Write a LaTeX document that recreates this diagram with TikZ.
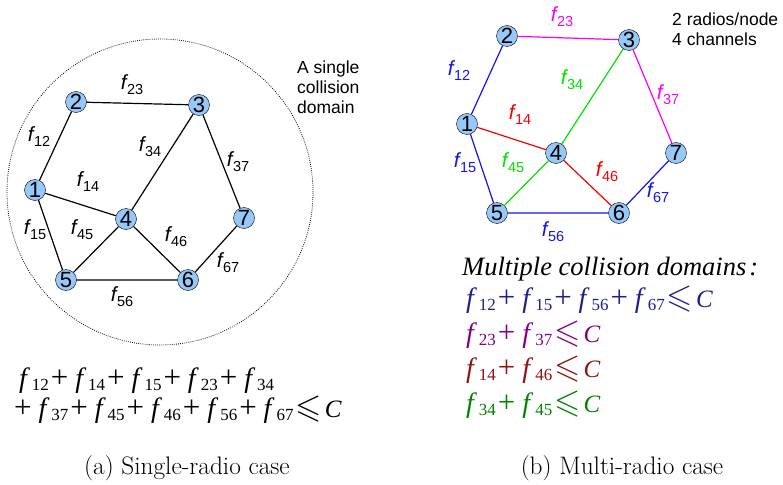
\documentclass[tikz,border=0pt]{standalone}
\usepackage{fontspec}
\usepackage{amssymb}
\newfontfamily\arialf{Liberation Sans}
\newfontfamily\timesf{Liberation Serif}
\definecolor{nodeblue}{RGB}{150,200,250}
\definecolor{chblue}{RGB}{20,20,235}
\definecolor{chmag}{RGB}{250,0,250}
\definecolor{chgreen}{RGB}{0,225,0}
\definecolor{chred}{RGB}{245,0,0}
\definecolor{eqblue}{RGB}{30,30,140}
\definecolor{eqpurple}{RGB}{130,0,130}
\definecolor{eqred}{RGB}{140,20,20}
\definecolor{eqgreen}{RGB}{0,130,0}
% link label f_ij
\newcommand{\lf}[1]{\itshape f\upshape\kern0.5pt\raisebox{-5pt}{\fontsize{14.5}{14.5}\selectfont #1}}
% equation term and plus
\newcommand{\ef}[1]{{\itshape\fontsize{28}{30}\selectfont f}\kern5pt\raisebox{-3pt}[0pt][0pt]{\fontsize{17}{17}\selectfont #1}}
\newcommand{\eplus}{{\fontsize{31}{30}\selectfont+}}
\newcommand{\ep}{\kern2pt\eplus\kern7pt}
\newcommand{\eleq}{\kern2pt\smash{\scalebox{1.35}{$\leqslant$}}\kern3pt\textit{C}}
\begin{document}
\begin{tikzpicture}[x=1pt, y=-1pt,
  nd/.style={draw, circle, fill=nodeblue, minimum size=21pt, inner sep=0pt, font=\arialf\fontsize{22}{22}\selectfont},
  lnk/.style={line width=1.2pt},
  lbl/.style={inner sep=0pt, font=\arialf\fontsize{20.5}{20.5}\selectfont},
  note/.style={inner sep=0pt, align=left, font=\arialf\fontsize{17.5}{20}\selectfont},
  eqn/.style={anchor=base west, inner sep=0pt, font=\timesf\fontsize{25}{30}\selectfont},
  captxt/.style={inner sep=0pt, font=\fontsize{25.3}{28}\selectfont}]
\useasboundingbox (0,0) rectangle (783,484);
% (a) single radio
\coordinate (dom) at (160,192);
\draw[line width=0.8pt, dash pattern=on 0.8pt off 1.3pt] (dom) circle (153pt);
\node[nd] (a1) at (35,190) {1};
\node[nd] (a2) at (76,102) {2};
\node[nd] (a3) at (199,105) {3};
\node[nd] (a4) at (126,219) {4};
\node[nd] (a5) at (66,280) {5};
\node[nd] (a6) at (188,280) {6};
\node[nd] (a7) at (244,218) {7};
\draw[lnk] (a5) -- (a1) -- (a2) -- (a3) -- (a7) -- (a6) -- (a5);
\draw[lnk] (a1) -- (a4) -- (a6);
\draw[lnk] (a5) -- (a4) -- (a3);
\node[lbl] (la12) at (39,137) {\lf{12}};
\node[lbl] (la23) at (132,85) {\lf{23}};
\node[lbl] (la34) at (150,147) {\lf{34}};
\node[lbl] (la37) at (238,162) {\lf{37}};
\node[lbl] (la14) at (88,182) {\lf{14}};
\node[lbl] (la15) at (35,230) {\lf{15}};
\node[lbl] (la45) at (82,230) {\lf{45}};
\node[lbl] (la46) at (176,237) {\lf{46}};
\node[lbl] (la67) at (228,263) {\lf{67}};
\node[lbl] (la56) at (122,297) {\lf{56}};
\node[note, anchor=north west] (dnote) at (297,61) {A single\\collision\\domain};
\node[eqn] (eqa1) at (19,387) {\ef{12}\ep\ef{14}\ep\ef{15}\ep\ef{23}\ep\ef{34}};
\node[eqn] (eqa2) at (14,417) {\eplus\kern7pt\ef{37}\ep\ef{45}\ep\ef{46}\ep\ef{56}\ep\ef{67}\eleq};
\node[captxt] (capa) at (187,468) {(a) Single-radio case};
% (b) multi radio
\node[nd] (b1) at (467,124) {1};
\node[nd] (b2) at (507,36) {2};
\node[nd] (b3) at (629,40) {3};
\node[nd] (b4) at (556,153) {4};
\node[nd] (b5) at (497,213) {5};
\node[nd] (b6) at (619,213) {6};
\node[nd] (b7) at (676,153) {7};
\draw[lnk, chblue] (b2) -- (b1) -- (b5) -- (b6) -- (b7);
\draw[lnk, chmag] (b2) -- (b3) -- (b7);
\draw[lnk, chred] (b1) -- (b4) -- (b6);
\draw[lnk, chgreen] (b5) -- (b4) -- (b3);
\node[lbl, chblue] (lb12) at (459,71) {\lf{12}};
\node[lbl, chmag] (lb23) at (562,17) {\lf{23}};
\node[lbl, chgreen] (lb34) at (572,80) {\lf{34}};
\node[lbl, chmag] (lb37) at (668,95) {\lf{37}};
\node[lbl, chred] (lb14) at (520,115) {\lf{14}};
\node[lbl, chblue] (lb15) at (465,163) {\lf{15}};
\node[lbl, chgreen] (lb45) at (513,163) {\lf{45}};
\node[lbl, chred] (lb46) at (607,172) {\lf{46}};
\node[lbl, chblue] (lb67) at (658,193) {\lf{67}};
\node[lbl, chblue] (lb56) at (553,232) {\lf{56}};
\node[note, anchor=north west] (rnote) at (672,13) {2 radios/node\\4 channels};
\node[eqn, font=\timesf\itshape\fontsize{26.5}{30}\selectfont] (eqhd) at (462,275) {Multiple collision domains\kern3pt:};
\node[eqn, eqblue] (eqb1) at (466,307) {\ef{12}\ep\ef{15}\ep\ef{56}\ep\ef{67}\eleq};
\node[eqn, eqpurple] (eqb2) at (466,342) {\ef{23}\ep\ef{37}\eleq};
\node[eqn, eqred] (eqb3) at (466,377) {\ef{14}\ep\ef{46}\eleq};
\node[eqn, eqgreen] (eqb4) at (466,412) {\ef{34}\ep\ef{45}\eleq};
\node[captxt] (capb) at (622,468) {(b) Multi-radio case};
\end{tikzpicture}
\end{document}
